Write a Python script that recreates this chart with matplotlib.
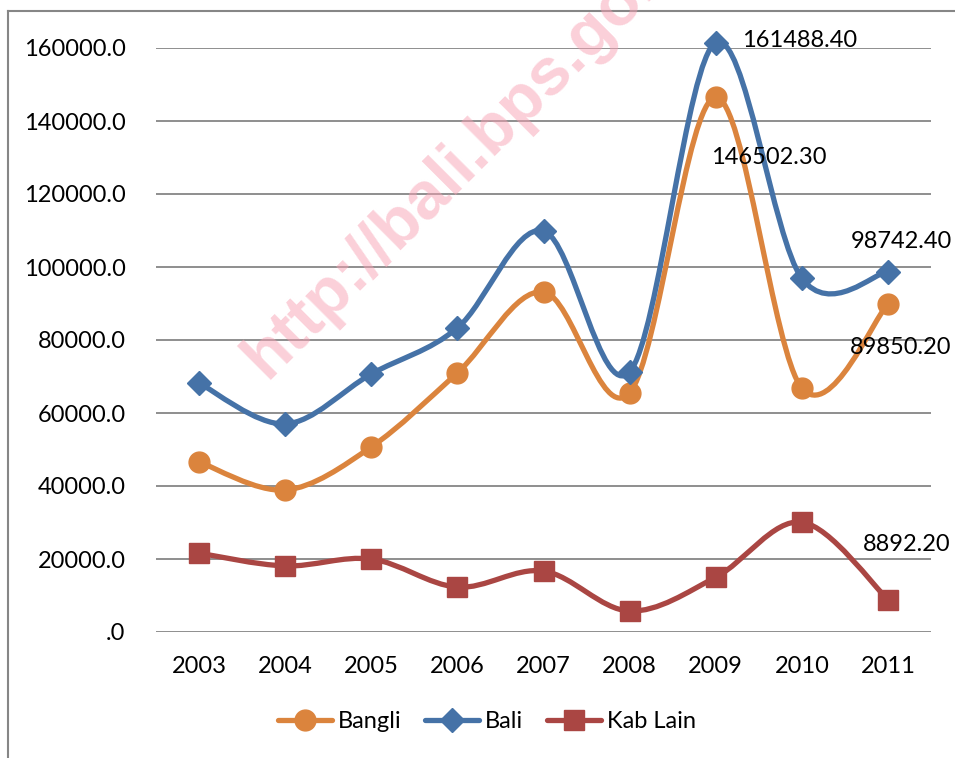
import numpy as np
import matplotlib
matplotlib.use("Agg")
import matplotlib.pyplot as plt
from matplotlib.path import Path
from matplotlib.patches import PathPatch
from matplotlib.lines import Line2D
from matplotlib.ticker import FuncFormatter

years = ["2003", "2004", "2005", "2006", "2007", "2008", "2009", "2010", "2011"]
bangli = [46600, 38900, 50700, 71000, 93200, 65500, 146502.3, 66800, 89850.2]
kab_lain = [21600, 18100, 20000, 12300, 16700, 5750, 14986.1, 30100, 8892.2]
bali = [68200, 57000, 70700, 83300, 109900, 71250, 161488.4, 96900, 98742.4]

plt.rcParams['font.family'] = ['Lato', 'DejaVu Sans']
FS = 17

fig = plt.figure(figsize=(9.55, 7.58), dpi=100)
ax = fig.add_axes([156 / 955, 1 - 632 / 758, 775 / 955, 584 / 758])


def smooth_path(xs, ys):
    # excel-style smoothed line: cubic bezier through every point
    pts = np.column_stack([xs, ys]).astype(float)
    n = len(pts)
    verts = [pts[0]]
    codes = [Path.MOVETO]
    for i in range(n - 1):
        p0 = pts[max(i - 1, 0)]
        p1 = pts[i]
        p2 = pts[i + 1]
        p3 = pts[min(i + 2, n - 1)]
        c1 = p1 + (p2 - p0) / 6
        c2 = p2 - (p3 - p1) / 6
        verts += [c1, c2, p2]
        codes += [Path.CURVE4] * 3
    return Path(verts, codes)


x = np.arange(len(years))
series = [
    ("Bangli", bangli, "#DB843D", "o", 15),
    ("Bali", bali, "#4572A7", "D", 12),
    ("Kab Lain", kab_lain, "#AA4643", "s", 14),
]
handles = []
for name, vals, col, mk, ms in series:
    patch = PathPatch(smooth_path(x, vals), fill=False, edgecolor=col, lw=3.8,
                      transform=ax.transData, clip_on=False, zorder=3,
                      capstyle='round', joinstyle='round')
    ax.add_patch(patch)
    ax.plot(x, vals, linestyle='none', marker=mk, markersize=ms, color=col,
            clip_on=False, zorder=4)
    handles.append(Line2D([], [], color=col, lw=3.8, marker=mk, markersize=ms,
                          solid_capstyle='round'))

ax.set_xlim(-0.5, 8.5)
ax.set_ylim(0, 160000)
ax.set_yticks(np.arange(0, 160001, 20000))
ax.yaxis.set_major_formatter(FuncFormatter(lambda v, p: ".0" if v == 0 else f"{v:.1f}"))
ax.set_xticks(x)
ax.set_xticklabels(years)
ax.tick_params(length=0, labelsize=FS, colors='black')
ax.tick_params(axis='y', pad=22)
ax.tick_params(axis='x', pad=17)
ax.grid(axis='y', color='#868686', lw=1.3, zorder=1)
ax.set_axisbelow(True)
for s in ax.spines.values():
    s.set_visible(False)

# data labels
labels = [
    (6, bali[6], "161488.40", (26, 2), 'left'),
    (6, bangli[6], "146502.30", (53, -60), 'center'),
    (8, bali[8], "98742.40", (13, 30), 'center'),
    (8, bangli[8], "89850.20", (13, -43), 'center'),
    (8, kab_lain[8], "8892.20", (19, 55), 'center'),
]
for xi, yv, txt, off, ha in labels:
    ax.annotate(txt, (xi, yv), xytext=off, textcoords='offset pixels',
                ha=ha, va='center', fontsize=FS, zorder=5, annotation_clip=False)

# watermark
fig.text(266 / 955, 1 - 380 / 758, "http://bali.bps.go.id", rotation=45,
         rotation_mode='anchor', ha='left', va='baseline', fontsize=48,
         fontweight='bold', family='Liberation Sans', color='#F7A1B3',
         alpha=0.5, zorder=2)

# chart border (cropped)
fig.add_artist(Line2D([7.5 / 955, 7.5 / 955], [0, 1 - 11 / 758], color='#868686', lw=1.5))
fig.add_artist(Line2D([7.5 / 955, 1], [1 - 11 / 758, 1 - 11 / 758], color='#868686', lw=1.5))

fig.legend(handles, [s[0] for s in series], loc='center',
           bbox_to_anchor=(487 / 955, 1 - 722 / 758), ncol=3, frameon=False,
           fontsize=FS, handlelength=2.3, handletextpad=0.25, columnspacing=1.0)

fig.savefig("out.png", dpi=100)
